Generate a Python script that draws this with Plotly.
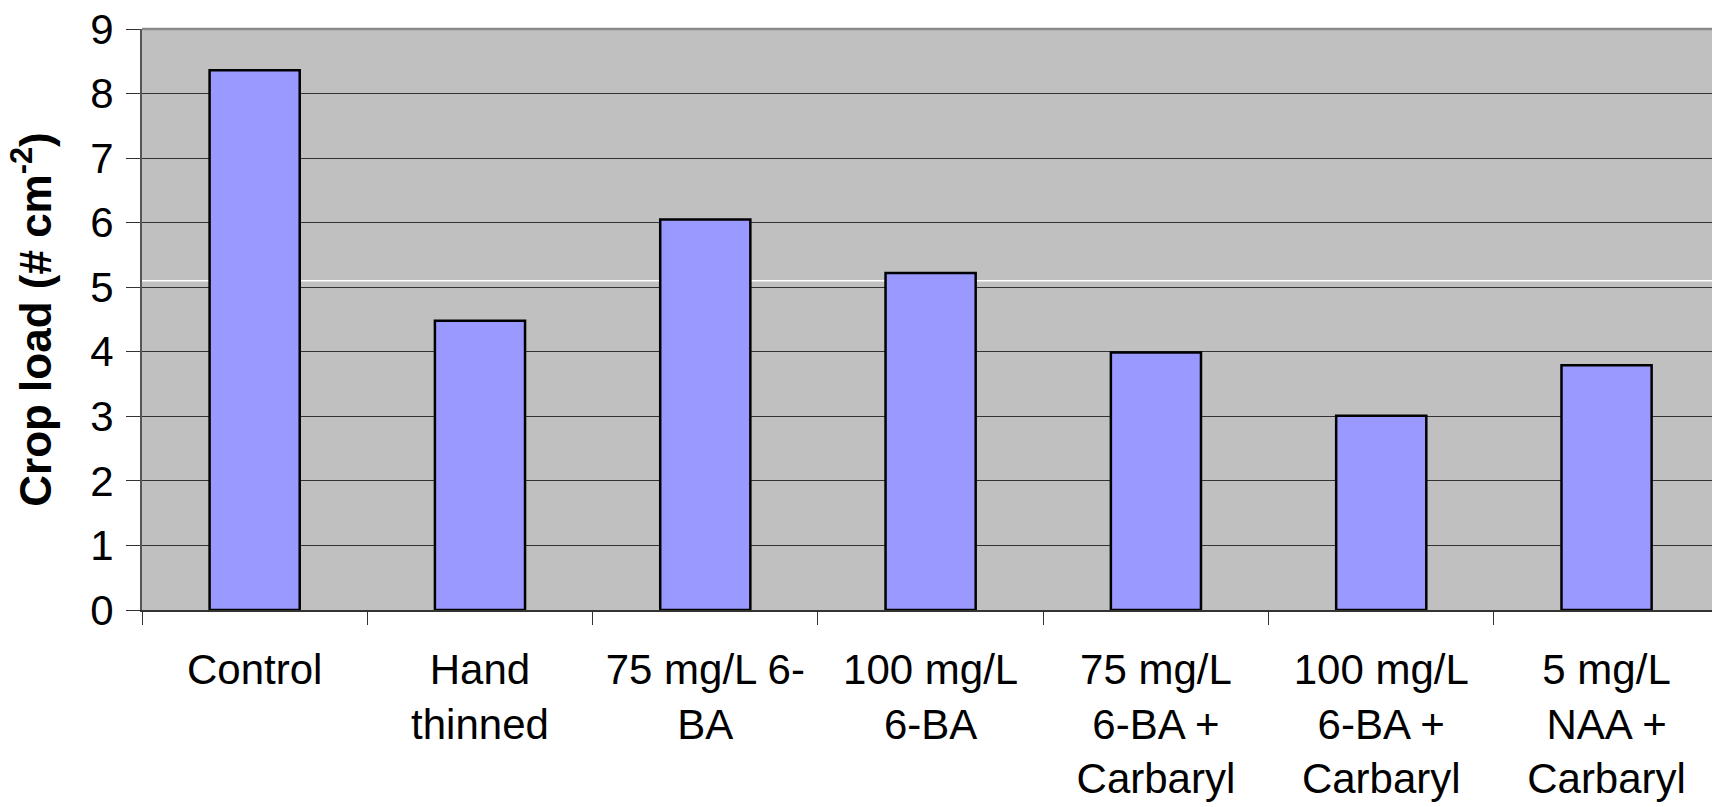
import plotly.graph_objects as go

categories = [
    "Control",
    "Hand<br>thinned",
    "75 mg/L 6-<br>BA",
    "100 mg/L<br>6-BA",
    "75 mg/L<br>6-BA +<br>Carbaryl",
    "100 mg/L<br>6-BA +<br>Carbaryl",
    "5 mg/L<br>NAA +<br>Carbaryl",
]
crop_load = [8.36, 4.48, 6.05, 5.22, 3.99, 3.01, 3.79]
y_ticks = [0, 1, 2, 3, 4, 5, 6, 7, 8, 9]

FONT = "Liberation Sans, Arial, sans-serif"

fig = go.Figure(
    go.Bar(
        x=categories,
        y=crop_load,
        width=0.4,
        marker=dict(color="#9999FF", line=dict(color="#000000", width=2.5)),
        hoverinfo="x+y",
    )
)

fig.update_layout(
    width=1712,
    height=807,
    margin=dict(l=142, r=0, t=29, b=197),
    paper_bgcolor="#FFFFFF",
    plot_bgcolor="#C0C0C0",
    showlegend=False,
    font=dict(family=FONT, size=42, color="#000000"),
    bargap=0.6,
    shapes=[
        dict(type="line", xref="paper", yref="y", x0=0, x1=1, y0=5.1, y1=5.1,
             line=dict(color="#FFFFFF", width=1.5), layer="between"),
        dict(type="line", xref="paper", yref="paper", x0=0, x1=1, y0=1, y1=1,
             line=dict(color="#8A8A8A", width=2.5), layer="above"),
    ],
)

fig.update_xaxes(
    type="category",
    range=[-0.5, 6.468],
    showgrid=False,
    showline=True,
    linecolor="#333333",
    linewidth=1.5,
    ticks="outside",
    tickson="boundaries",
    ticklen=13,
    tickcolor="#333333",
    tickwidth=1,
    tickangle=0,
    tickfont=dict(family=FONT, size=42, color="#000000"),
    ticklabelstandoff=22,
    fixedrange=True,
)

fig.update_yaxes(
    range=[0, 9],
    tickvals=y_ticks,
    ticktext=[str(v) for v in y_ticks],
    showgrid=True,
    gridcolor="#333333",
    gridwidth=1,
    zeroline=False,
    showline=True,
    linecolor="#555555",
    linewidth=2,
    ticks="outside",
    ticklen=14,
    tickcolor="#333333",
    tickwidth=1,
    tickfont=dict(family=FONT, size=42, color="#000000"),
    ticklabelstandoff=4,
    title=dict(
        text="<b>Crop load (# cm<sup>-2</sup>)</b>",
        font=dict(family=FONT, size=44, color="#000000"),
        standoff=25,
    ),
    fixedrange=True,
)

fig.write_html("out.html")
